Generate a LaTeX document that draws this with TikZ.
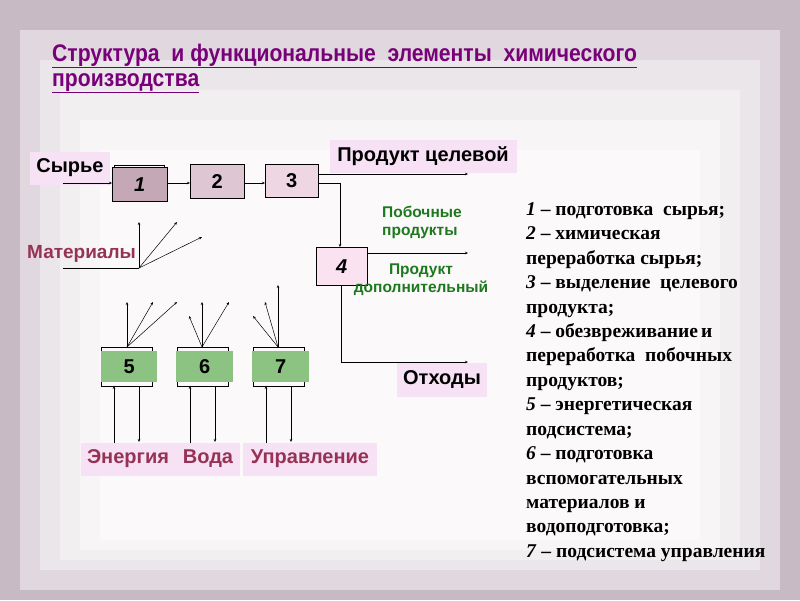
\documentclass[tikz,border=0pt]{standalone}
\usepackage{fontspec}
\setmainfont{Liberation Serif}
\newfontfamily\arialf{Liberation Sans}
\newfontfamily\narrowf[FakeStretch=0.88]{Liberation Sans}
\usetikzlibrary{arrows.meta}
\definecolor{bgA}{RGB}{200,186,196}
\definecolor{bgB}{RGB}{224,216,222}
\definecolor{bgC}{RGB}{235,230,234}
\definecolor{bgD}{RGB}{242,239,241}
\definecolor{bgE}{RGB}{247,245,246}
\definecolor{bgF}{RGB}{251,249,250}
\definecolor{labbg}{RGB}{246,226,244}
\definecolor{mar}{RGB}{150,50,85}
\definecolor{grn}{RGB}{30,120,30}
\definecolor{ttl}{RGB}{120,0,120}
\definecolor{fa}{RGB}{196,168,182}
\definecolor{fb}{RGB}{222,198,210}
\definecolor{fc}{RGB}{238,214,226}
\definecolor{fd}{RGB}{250,226,240}
\definecolor{gb}{RGB}{140,195,130}
\tikzset{
 x=1pt,y=-1pt,
 arr/.style={-{Stealth[length=3pt,width=2.5pt]},line width=0.5pt},
 ln/.style={line width=0.5pt},
 lab/.style={fill=labbg,font=\arialf\bfseries\fontsize{20}{20}\selectfont,inner sep=0pt,anchor=center},
 grl/.style={text=grn,font=\arialf\bfseries\fontsize{15.5}{18}\selectfont,align=center},
 leg/.style={anchor=base west,font=\bfseries\fontsize{19.5}{20}\selectfont,inner sep=0pt},
 num/.style={font=\arialf\bfseries\fontsize{20}{20}\selectfont},
 ttlf/.style={anchor=base west,inner sep=0pt,text=ttl,font=\narrowf\bfseries\fontsize{24}{24}\selectfont}
}
\newcommand{\ul}[1]{\underline{#1}}
\begin{document}
\begin{tikzpicture}
\useasboundingbox (0,0) rectangle (800,600);
\fill[bgA] (0,0) rectangle (800,600);
\fill[bgB] (20,30) rectangle (780,590);
\fill[bgC] (40,60) rectangle (760,570);
\fill[bgD] (60,90) rectangle (740,560);
\fill[bgE] (80,120) rectangle (720,550);
\fill[bgF] (100,150) rectangle (700,540);
% title
\node[ttlf] (t1) at (52,61) {\ul{Структура\ \ и функциональные\ \ элементы\ \ химического}};
\node[ttlf] (t2) at (52,86) {\ul{производства}};
% boxes
\draw[ln] (114,165) rectangle (164,200);
\node[draw,ln,fill=fa,minimum width=55pt,minimum height=34pt,inner sep=0pt,anchor=north west,font=\arialf\bfseries\itshape\fontsize{20}{20}\selectfont] (b1) at (112,167) {1};
\node[draw,ln,fill=fb,minimum width=54pt,minimum height=34pt,inner sep=0pt,anchor=north west,num] (b2) at (190,164) {2};
\node[draw,ln,fill=fc,minimum width=53pt,minimum height=33pt,inner sep=0pt,anchor=north west,num] (b3) at (265,164) {3};
\node[draw,ln,fill=fd,minimum width=51pt,minimum height=38pt,inner sep=0pt,anchor=north west,font=\arialf\bfseries\itshape\fontsize{20}{20}\selectfont] (b4) at (316,247) {4};
\draw[ln] (101,347) rectangle (152,386);
\draw[ln] (177,347) rectangle (228,386);
\draw[ln] (253,347) rectangle (304,386);
\node[fill=gb,minimum width=56pt,minimum height=31pt,inner sep=0pt,anchor=north west,num] (b5) at (101,351) {5};
\node[fill=gb,minimum width=57pt,minimum height=31pt,inner sep=0pt,anchor=north west,num] (b6) at (176,351) {6};
\node[fill=gb,minimum width=57pt,minimum height=31pt,inner sep=0pt,anchor=north west,num] (b7) at (252,351) {7};
% labels
\node[lab,minimum width=80pt,minimum height=33pt] (syr) at (70,168) {Сырье};
\node[lab,minimum width=187pt,minimum height=33pt] (pc) at (423,156) {Продукт целевой};
\node[lab,minimum width=90pt,minimum height=34pt] (otx) at (442,380) {Отходы};
\node[lab,text=mar,minimum width=95pt,minimum height=33pt] (en) at (128,459) {Энергия};
\node[lab,text=mar,minimum width=64pt,minimum height=33pt] (vo) at (208,459) {Вода};
\node[lab,text=mar,minimum width=134pt,minimum height=33pt] (up) at (310,459) {Управление};
\node[anchor=west,inner sep=0pt,text=mar,font=\arialf\bfseries\fontsize{19}{19}\selectfont] (mat) at (27,254) {Материалы};
\node[grl,anchor=north west,align=left,inner sep=0pt] (pob) at (382,206) {Побочные\\продукты};
\node[grl,inner sep=0pt] (pd) at (421,280) {Продукт\\дополнительный};
% coordinates
\coordinate (s0) at (63,183);
\coordinate (pe) at (468,174);
\coordinate (j3) at (340,183);
\coordinate (pbe) at (468,253);
\coordinate (j4) at (341,362);
\coordinate (oe) at (468,362);
\coordinate (m0) at (63,268);
\coordinate (m1) at (139,268);
% main flow
\draw[arr] (s0) -- (s0 -| b1.west);
\draw[arr] (b1.east |- s0) -- (b2.west |- s0);
\draw[arr] (b2.east |- s0) -- (b3.west |- s0);
\draw[arr] (b3.east |- pe) -- (pe);
\draw[arr] (b3.east |- j3) -- (j3) -- (j3 |- b4.north);
\draw[arr] (b4.east |- pbe) -- (pbe);
\draw[ln] (j4 |- b4.south) -- (j4);
\draw[arr] (j4) -- (oe);
% materials
\draw[ln] (m0) -- (m1);
\draw[arr] (m1) -- (139,222);
\draw[arr] (m1) -- (177,222);
\draw[arr] (m1) -- (202,237);
% fans from 5,6,7
\coordinate (f5) at (127,347);
\coordinate (f6) at (202,347);
\coordinate (f7) at (278,347);
\draw[arr] (f5) -- (127,302);
\draw[arr] (f5) -- (153,302);
\draw[arr] (f5) -- (177,302);
\draw[arr] (f6) -- (202,302);
\draw[arr] (f6) -- (189,316);
\draw[arr] (f6) -- (229,302);
\draw[arr] (f7) -- (278,285);
\draw[arr] (f7) -- (265,302);
\draw[arr] (f7) -- (253,316);
% bottom in/out
\draw[arr] (114,443) -- (114,386);
\draw[arr] (139,386) -- (139,442);
\draw[arr] (190,443) -- (190,386);
\draw[arr] (215,386) -- (215,442);
\draw[arr] (266,443) -- (266,386);
\draw[arr] (291,386) -- (291,442);
% legend
\node[leg] (l1) at (526,215) {\textit{1} – подготовка\ \ сырья;};
\node[leg] (l2) at (526,239) {\textit{2} – химическая};
\node[leg] (l3) at (526,264) {переработка сырья;};
\node[leg] (l4) at (526,288) {\textit{3} – выделение\ \ целевого};
\node[leg] (l5) at (526,313) {продукта;};
\node[leg] (l6) at (526,337) {\textit{4} – обезвреживание\,и};
\node[leg] (l7) at (526,361) {переработка\ \ побочных};
\node[leg] (l8) at (526,386) {продуктов;};
\node[leg] (l9) at (526,410) {\textit{5} – энергетическая};
\node[leg] (l10) at (526,435) {подсистема;};
\node[leg] (l11) at (526,459) {\textit{6} – подготовка};
\node[leg] (l12) at (526,484) {вспомогательных};
\node[leg] (l13) at (526,508) {материалов и};
\node[leg] (l14) at (526,532) {водоподготовка;};
\node[leg] (l15) at (526,557) {\textit{7} – подсистема управления};
\end{tikzpicture}
\end{document}
